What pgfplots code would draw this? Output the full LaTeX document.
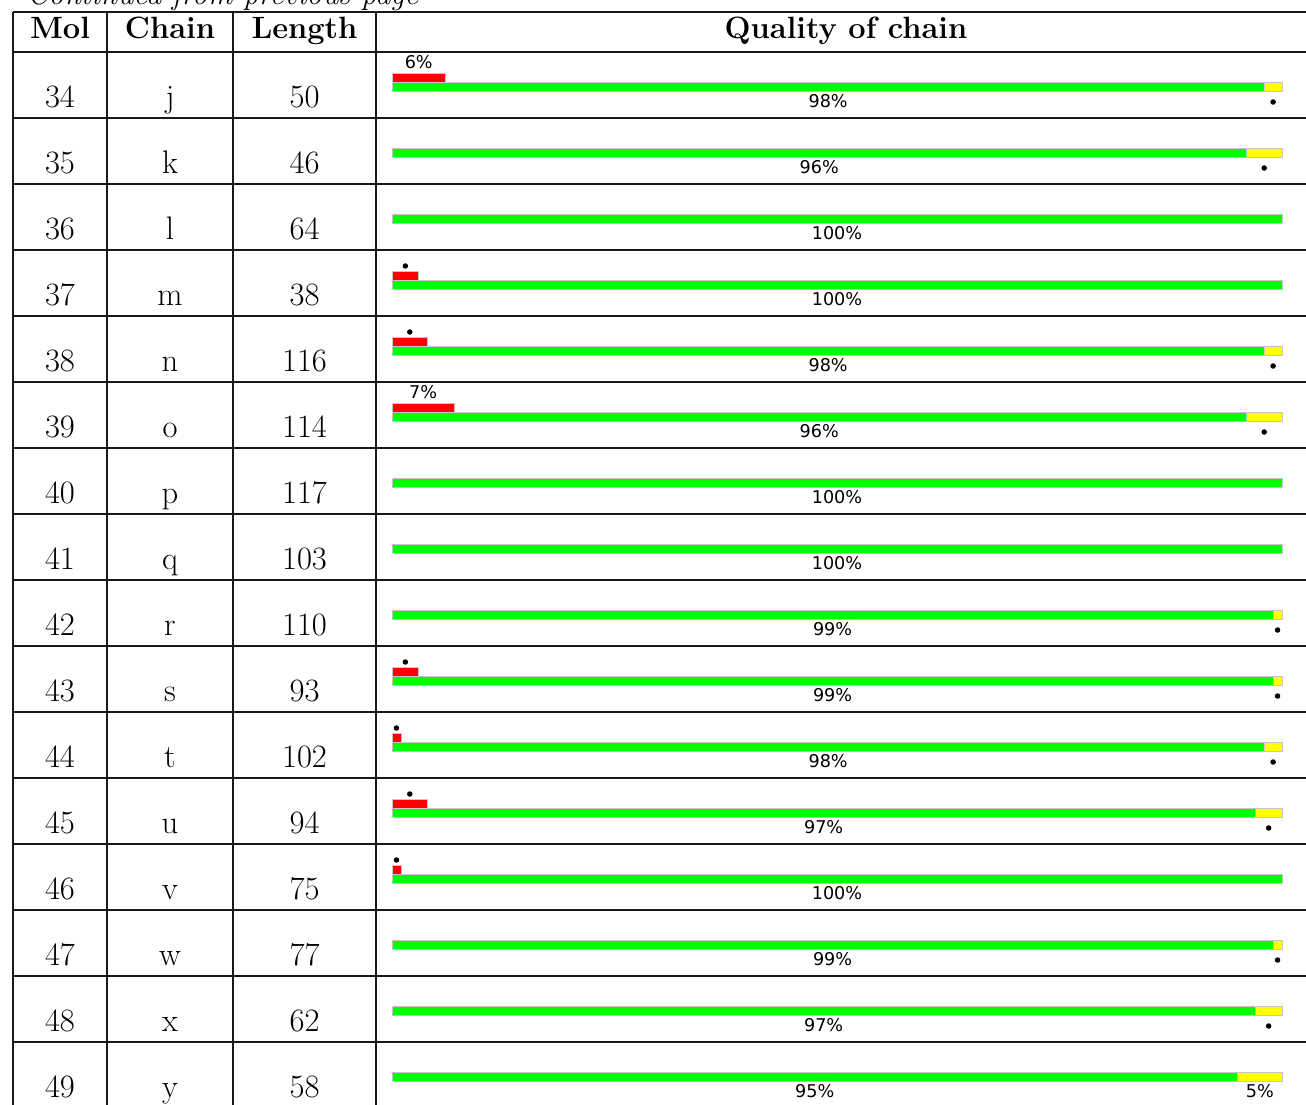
\documentclass[border=0pt]{standalone}
\usepackage{fontspec}
\usepackage{pgfplots}
\pgfplotsset{compat=1.18}
\newfontfamily\dv{DejaVu Sans}
\definecolor{qgreen}{RGB}{0,255,0}
\definecolor{qred}{RGB}{255,0,0}
\definecolor{qyellow}{RGB}{255,255,0}
\definecolor{rule}{RGB}{25,25,25}
\newcommand\bodyfont{\fontsize{16.3}{19}\selectfont}
\newcommand\headfont{\fontsize{15.4}{18}\selectfont\bfseries}
\newcommand\pfont{\fontsize{8.8}{10}\selectfont\dv}
\begin{document}
\begin{tikzpicture}[x=1pt,y=1pt]
\path[use as bounding box] (0,0) rectangle (653,552);
\clip (0,0) rectangle (653,552);
% ---------- table in pixel coordinates ----------
\begin{axis}[at={(0,0)}, anchor=south west, scale only axis,
  width=653pt, height=552pt, xmin=0, xmax=1306, ymin=0, ymax=1104,
  y dir=reverse, hide axis, clip=false]
\node[anchor=base west, font=\fontsize{15.4}{18}\selectfont\itshape] at (axis cs:20,4) {Continued from previous page};
% rules
\draw[rule, line width=0.7pt] (axis cs:13,12) -- (axis cs:1320,12);
\draw[rule, line width=1.3pt] (axis cs:13,52) -- (axis cs:1320,52);
\foreach \yy in {118,184,250,316,382,448,514,580,646,712,778,844,910,976,1042}
  {\edef\tmp{\noexpand\draw[rule, line width=0.6pt] (axis cs:13,\yy) -- (axis cs:1320,\yy);}\tmp}
\foreach \xx in {13,107,233,376}
  {\edef\tmp{\noexpand\draw[rule, line width=0.6pt] (axis cs:\xx,12) -- (axis cs:\xx,1120);}\tmp}
% header
\node[anchor=base, font=\headfont] at (axis cs:60,38.5) {Mol};
\node[anchor=base, font=\headfont] at (axis cs:170,38.5) {Chain};
\node[anchor=base, font=\headfont] at (axis cs:304.5,38.5) {Length};
\node[anchor=base, font=\headfont] at (axis cs:846,38.5) {Quality of chain};
% body
\foreach \i/\m/\c/\l in {0/34/j/50,1/35/k/46,2/36/l/64,3/37/m/38,4/38/n/116,5/39/o/114,6/40/p/117,7/41/q/103,8/42/r/110,9/43/s/93,10/44/t/102,11/45/u/94,12/46/v/75,13/47/w/77,14/48/x/62,15/49/y/58}{
  \pgfmathsetmacro\yb{52+66*\i+55}
  \edef\tmp{\noexpand\node[anchor=base, font=\noexpand\bodyfont] at (axis cs:60,\yb) {\m};
  \noexpand\node[anchor=base, font=\noexpand\bodyfont] at (axis cs:170,\yb) {\c};
  \noexpand\node[anchor=base, font=\noexpand\bodyfont] at (axis cs:304.5,\yb) {\l};}\tmp
}
\end{axis}
% ---------- quality bars, x in percent ----------
\begin{axis}[at={(0,0)}, anchor=south west, scale only axis,
  width=653pt, height=552pt, xmin=-44.0449, xmax=102.6966, ymin=0, ymax=1104,
  y dir=reverse, hide axis, clip=false]
% yellow background (100 %)
\addplot[xbar, bar width=9, bar shift=0pt, fill=qyellow, draw=gray!45, line width=0.3pt] coordinates {
 (100,86.5) (100,152.5) (100,416.5) (100,350.5) (100,614.5) (100,680.5) (100,746.5) (100,812.5) (100,944.5) (100,1010.5) (100,1076.5)};
% green: fraction of residues with good quality
\addplot[xbar, bar width=9, bar shift=0pt, fill=qgreen, draw=gray!45, line width=0.3pt] coordinates {
 (98,86.5) (96,152.5) (100,218.5) (100,284.5) (98,350.5) (96,416.5) (100,482.5) (100,548.5)
 (99,614.5) (99,680.5) (98,746.5) (97,812.5) (100,878.5) (99,944.5) (97,1010.5) (95,1076.5)};
% red: fraction of residues with electron density outliers
\addplot[xbar, bar width=9, bar shift=0pt, fill=qred, draw=gray!45, line width=0.3pt] coordinates {
 (6,77.5) (3,275.5) (4,341.5) (7,407.5) (3,671.5) (1,737.5) (4,803.5) (1,869.5)};
% dots
\addplot[only marks, mark=*, mark size=1.15pt, black] coordinates {
 (1.5,266) (2,332) (1.5,662) (0.5,728) (2,794) (0.5,860)
 (99,102) (98,168) (99,366) (98,432) (99.5,630) (99.5,696) (99,762) (98.5,828) (99.5,960) (98.5,1026)};
% labels
\node[anchor=base, font=\pfont] at (axis cs:3,68) {6\%};
\node[anchor=base, font=\pfont] at (axis cs:3.5,398) {7\%};
\node[anchor=base, font=\pfont] at (axis cs:97.5,1097) {5\%};
\foreach \i/\g in {0/98,1/96,2/100,3/100,4/98,5/96,6/100,7/100,8/99,9/99,10/98,11/97,12/100,13/99,14/97,15/95}{
  \pgfmathsetmacro\yb{52+66*\i+55}
  \pgfmathsetmacro\xg{\g/2}
  \edef\tmp{\noexpand\node[anchor=base, font=\noexpand\pfont] at (axis cs:\xg,\yb) {\g\noexpand\%};}\tmp
}
\end{axis}
\end{tikzpicture}
\end{document}
